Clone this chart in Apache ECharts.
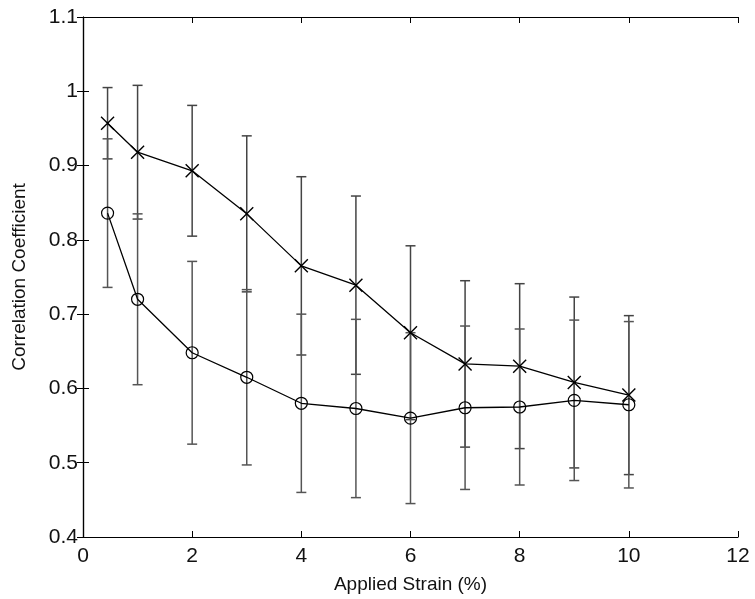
<!DOCTYPE html>
<html>
<head>
<meta charset="utf-8">
<script src="https://cdn.jsdelivr.net/npm/echarts@6/dist/echarts.min.js"></script>
<style>
html,body{margin:0;padding:0;background:#fff;}
#chart{width:755px;height:599px;}
</style>
</head>
<body>
<div id="chart"></div>
<script type="text/javascript">
// applied strain (%)
var strain = [0.45, 1, 2, 3, 4, 5, 6, 7, 8, 9, 10];
// X markers
var crossMean = [0.957, 0.918, 0.893, 0.835, 0.765, 0.739, 0.675, 0.633, 0.630, 0.608, 0.591];
var crossErr  = [0.048, 0.090, 0.088, 0.105, 0.120, 0.120, 0.117, 0.112, 0.111, 0.115, 0.107];
// O markers
var circleMean = [0.836, 0.720, 0.648, 0.615, 0.580, 0.573, 0.560, 0.574, 0.575, 0.584, 0.578];
var circleErr  = [0.100, 0.115, 0.123, 0.118, 0.120, 0.120, 0.115, 0.110, 0.105, 0.108, 0.112];

var font = "Liberation Sans";

function pairs(ys){
	return strain.map(function(x,i){ return [x, ys[i]]; });
}
function errRows(ys,es){
	return strain.map(function(x,i){ return [x, ys[i]-es[i], ys[i]+es[i]]; });
}

// error bars: vertical line plus caps
function errBar(color){
	return function(params, api){
		var lo = api.coord([api.value(0), api.value(1)]);
		var hi = api.coord([api.value(0), api.value(2)]);
		var w = 5;
		var st = {stroke: color, lineWidth: 1.5};
		return {
			type: 'group',
			children: [
				{type:'line', shape:{x1:lo[0],y1:lo[1],x2:hi[0],y2:hi[1]}, style:st},
				{type:'line', shape:{x1:lo[0]-w,y1:lo[1],x2:lo[0]+w,y2:lo[1]}, style:st},
				{type:'line', shape:{x1:hi[0]-w,y1:hi[1],x2:hi[0]+w,y2:hi[1]}, style:st}
			]
		};
	};
}

var chart = echarts.init(document.getElementById("chart"));

var axisLine = {show:true, lineStyle:{color:'#000', width:1.2}};
var axisTick = {show:true, inside:true, length:6, lineStyle:{color:'#000'}};

var option = {
	animation: false,
	backgroundColor: '#fff',
	grid: {left:83, right:17, top:17, bottom:62},
	xAxis: [
		{
			type:'value', min:0, max:12, interval:2,
			name:'Applied Strain (%)', nameLocation:'middle', nameGap:38,
			nameTextStyle:{fontFamily:font, fontSize:19, color:'#111'},
			axisLine:axisLine, axisTick:axisTick, splitLine:{show:false},
			axisLabel:{fontFamily:font, fontSize:21, color:'#111', margin:9}
		},
		{
			type:'value', min:0, max:12, interval:2, position:'top',
			axisLine:axisLine, axisTick:axisTick, splitLine:{show:false},
			axisLabel:{show:false}
		}
	],
	yAxis: [
		{
			type:'value', min:0.4, max:1.1, interval:0.1,
			name:'Correlation Coefficient', nameLocation:'middle', nameGap:54,
			nameTextStyle:{fontFamily:font, fontSize:19, color:'#111'},
			axisLine:axisLine, axisTick:axisTick, splitLine:{show:false},
			axisLabel:{fontFamily:font, fontSize:21, color:'#111', margin:5,
				formatter:function(v){ return String(Math.round(v*10)/10); }}
		},
		{
			type:'value', min:0.4, max:1.1, interval:0.1, position:'right',
			axisLine:axisLine, axisTick:axisTick, splitLine:{show:false},
			axisLabel:{show:false}
		}
	],
	series: [
		{
			type:'custom', renderItem:errBar('#444'),
			data:errRows(crossMean, crossErr), z:1
		},
		{
			type:'custom', renderItem:errBar('#555'),
			data:errRows(circleMean, circleErr), z:1
		},
		{
			type:'line', data:pairs(crossMean), z:3,
			symbol:'path://M0,0L10,10M10,0L0,10', symbolSize:13,
			lineStyle:{color:'#000', width:1.3},
			itemStyle:{color:'none', borderColor:'#000', borderWidth:1.4}
		},
		{
			type:'line', data:pairs(circleMean), z:3,
			symbol:'circle', symbolSize:12,
			lineStyle:{color:'#000', width:1.3},
			itemStyle:{color:'none', borderColor:'#000', borderWidth:1.2}
		}
	]
};
chart.setOption(option);
</script>
</body>
</html>
